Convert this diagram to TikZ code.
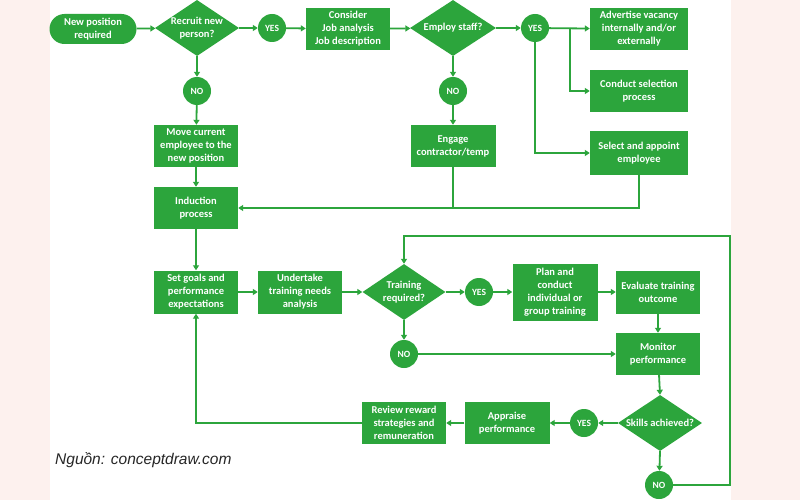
\documentclass[tikz,border=0pt]{standalone}
\usepackage{fontspec}
\setmainfont{Carlito}
\newfontfamily\srcfont{Liberation Sans}
\usetikzlibrary{shapes.geometric,arrows.meta}
\definecolor{gr}{RGB}{44,165,60}
\definecolor{pinkbg}{RGB}{253,241,238}
\tikzset{
  base/.style={fill=gr,text=white,font=\bfseries\fontsize{10.5}{13}\selectfont,align=center,inner sep=1pt},
  box/.style={base,rectangle,minimum width=84pt,minimum height=42pt},
  term/.style={base,rectangle,rounded corners=15pt,minimum width=87pt,minimum height=30pt},
  dia/.style={fill=gr,diamond,inner sep=0pt,minimum width=84pt,minimum height=56pt},
  dtxt/.style={text=white,font=\bfseries\fontsize{10.5}{13}\selectfont,align=center},
  circ/.style={base,circle,minimum size=28pt,inner sep=0pt,font=\bfseries\fontsize{9.5}{11}\selectfont},
  arr/.style={draw=gr,line width=1.8pt,-{Triangle[length=5pt,width=6pt]}},
  ln/.style={draw=gr,line width=1.8pt}
}
\begin{document}
\begin{tikzpicture}[x=1pt,y=-1pt]
\fill[pinkbg] (0,0) rectangle (800,500);
\fill[white] (50,0) rectangle (731,500);
\useasboundingbox (0,0) rectangle (800,500);

% top row
\node[term] (start) at (93,29) {New position\\required};
\node[dia,label={[dtxt]center:Recruit new\\person?}] (d1) at (197,28) {};
\node[circ] (y1) at (272,28) {YES};
\node[box] (consider) at (348,29) {Consider\\Job analysis\\Job description};
\node[dia,minimum width=86pt,label={[dtxt]center:Employ staff?}] (d2) at (453,28) {};
\node[circ] (y2) at (535,28) {YES};
\node[box,minimum width=98pt] (adv) at (639,29) {Advertise vacancy\\internally and/or\\externally};
\node[box,minimum width=98pt] (conduct) at (639,91) {Conduct selection\\process};
\node[box,minimum width=98pt,minimum height=43pt] (select) at (639,153) {Select and appoint\\employee};
\coordinate (br) at (570,28);

% left column
\node[circ] (n1) at (197,91) {NO};
\node[box] (move) at (196,146) {Move current\\employee to the\\new position};
\node[box] (ind) at (196,208) {Induction\\process};
\node[circ] (n2) at (453,91) {NO};
\node[box,minimum width=85pt] (engage) at (453,146) {Engage\\contractor/temp};

% training row
\node[box,minimum height=43pt] (goals) at (196,292) {Set goals and\\performance\\expectations};
\node[box,minimum height=43pt] (tna) at (300,292) {Undertake\\training needs\\analysis};
\node[dia,minimum width=83pt,label={[dtxt]center:Training\\required?}] (d3) at (404,292) {};
\node[circ] (y3) at (479,292) {YES};
\node[box,minimum width=85pt,minimum height=57pt] (plan) at (555,292) {Plan and\\conduct\\individual or\\group training};
\node[box,minimum height=43pt] (eval) at (658,292) {Evaluate training\\outcome};
\node[circ] (n3) at (404,354) {NO};
\node[box] (mon) at (658,354) {Monitor\\performance};

% bottom row
\node[dia,label={[dtxt]center:Skills achieved?}] (d4) at (660,423) {};
\node[circ] (y4) at (584,423) {YES};
\node[box,minimum width=85pt] (appr) at (507,423) {Appraise\\performance};
\node[box] (rev) at (404,423) {Review reward\\strategies and\\remuneration};
\node[circ] (n4) at (659,485) {NO};
\coordinate (c2) at (730,236);

\node[anchor=west,font=\srcfont\itshape\fontsize{15.5}{18}\selectfont,text=black!85,inner sep=0pt] (src) at (55,460) {Nguồn: conceptdraw.com};

% connectors
\draw[arr] (start) -- (d1);
\draw[arr] (d1) -- (y1);
\draw[arr] (y1) -- (consider);
\draw[arr] (consider) -- (d2);
\draw[arr] (d2) -- (y2);
\draw[arr] (y2) -- (adv);
\draw[arr] (br) |- (conduct.west);
\draw[arr] (y2.south) |- (select.west);
\draw[arr] (select.south) |- (ind.east);
\draw[ln] (engage.south) -- (engage.south |- ind.east);
\draw[arr] (d1.south) -- (n1);
\draw[arr] (n1) -- (move);
\draw[arr] (move) -- (ind);
\draw[arr] (ind) -- (goals);
\draw[arr] (d2.south) -- (n2);
\draw[arr] (n2) -- (engage);
\draw[arr] (goals) -- (tna);
\draw[arr] (tna) -- (d3.west);
\draw[arr] (d3.east) -- (y3);
\draw[arr] (y3) -- (plan);
\draw[arr] (plan) -- (eval);
\draw[arr] (eval) -- (mon);
\draw[arr] (d3.south) -- (n3);
\draw[arr] (n3) -- (mon.west);
\draw[arr] (mon) -- (d4.north);
\draw[arr] (d4.west) -- (y4);
\draw[arr] (y4) -- (appr);
\draw[arr] (appr) -- (rev);
\draw[arr] (rev.west) -| (goals.south);
\draw[arr] (d4.south) -- (n4);
\draw[arr] (n4.east) -| (c2) -| (d3.north);
\end{tikzpicture}
\end{document}
